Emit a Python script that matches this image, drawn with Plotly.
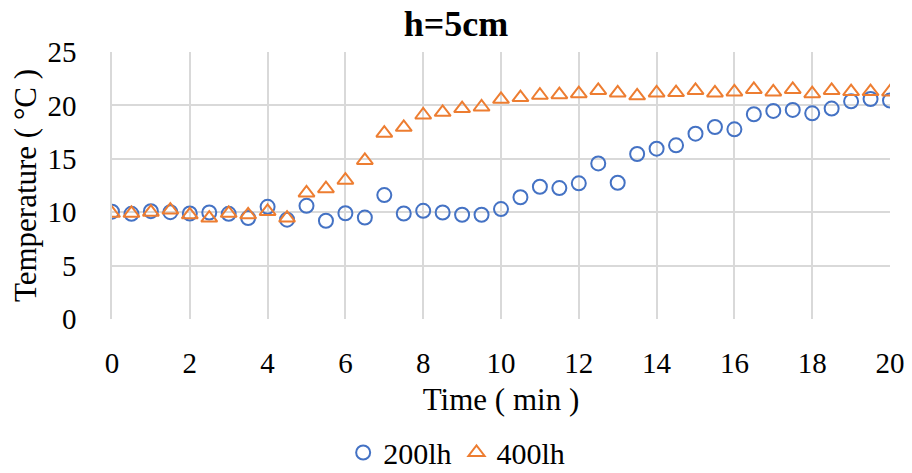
import plotly.graph_objects as go

time_min = [0, 0.5, 1, 1.5, 2, 2.5, 3, 3.5, 4, 4.5, 5, 5.5, 6, 6.5, 7, 7.5, 8, 8.5, 9, 9.5,
            10, 10.5, 11, 11.5, 12, 12.5, 13, 13.5, 14, 14.5, 15, 15.5, 16, 16.5, 17, 17.5,
            18, 18.5, 19, 19.5, 20]
temp_200lh = [10.05, 9.85, 10.1, 10.0, 9.88, 9.97, 9.85, 9.45, 10.5, 9.3, 10.6, 9.2, 9.9, 9.5,
              11.6, 9.88, 10.13, 9.97, 9.76, 9.76, 10.29, 11.4, 12.38, 12.26, 12.7, 14.57, 12.76,
              15.45, 15.95, 16.26, 17.35, 17.98, 17.76, 19.17, 19.48, 19.58, 19.26, 19.7, 20.38,
              20.6, 20.45]
temp_400lh = [9.9, 9.9, 10.0, 10.2, 9.75, 9.45, 9.9, 9.75, 10.07, 9.45, 11.8, 12.2, 13.0, 14.85,
              17.4, 17.95, 19.1, 19.35, 19.7, 19.85, 20.57, 20.73, 20.95, 21.0, 21.1, 21.4, 21.17,
              20.9, 21.17, 21.2, 21.4, 21.17, 21.26, 21.5, 21.26, 21.5, 21.1, 21.4, 21.3, 21.3,
              21.26]

x_ticks = [0, 2, 4, 6, 8, 10, 12, 14, 16, 18, 20]
y_ticks = [0, 5, 10, 15, 20, 25]

FONT = "Liberation Serif, Times New Roman, serif"

fig = go.Figure()
fig.add_trace(go.Scatter(
    x=time_min, y=temp_200lh, mode="markers", name="200lh",
    marker=dict(symbol="circle-open", size=14, color="#4472C4", line=dict(width=2, color="#4472C4")),
))
fig.add_trace(go.Scatter(
    x=time_min, y=temp_400lh, mode="markers", name="400lh",
    marker=dict(symbol="triangle-up-open", size=14, color="#ED7D31", line=dict(width=2, color="#ED7D31")),
))

fig.update_layout(
    width=912, height=473,
    margin=dict(l=112, r=22, t=52, b=154, autoexpand=False),
    paper_bgcolor="white", plot_bgcolor="white",
    font=dict(family=FONT, size=29, color="black"),
    title=dict(text="<b>h=5cm</b>", x=0.5, xanchor="center", y=0.951, yanchor="middle",
               font=dict(family=FONT, size=36, color="black")),
    showlegend=True,
    legend=dict(orientation="h", x=0.443, xanchor="center", y=-0.5, yanchor="middle",
                font=dict(family=FONT, size=30), itemwidth=30, tracegroupgap=0),
)
fig.update_xaxes(
    range=[0, 20], tickvals=x_ticks, showgrid=True, gridcolor="#d9d9d9", gridwidth=1.5,
    zeroline=False, showline=False, ticks="", ticklabelstandoff=24,
    tickfont=dict(family=FONT, size=29),
    title=dict(text="Time ( min )", font=dict(family=FONT, size=31), standoff=10),
)
fig.update_yaxes(
    range=[0, 25], tickvals=y_ticks, showgrid=True, gridcolor="#d9d9d9", gridwidth=1.5,
    zeroline=False, showline=True, linecolor="#d9d9d9", linewidth=1.5, ticks="",
    ticklabelstandoff=28,
    tickfont=dict(family=FONT, size=29),
    title=dict(text="Temperature ( °C )", font=dict(family=FONT, size=31), standoff=2),
)

fig.write_html("out.html")
